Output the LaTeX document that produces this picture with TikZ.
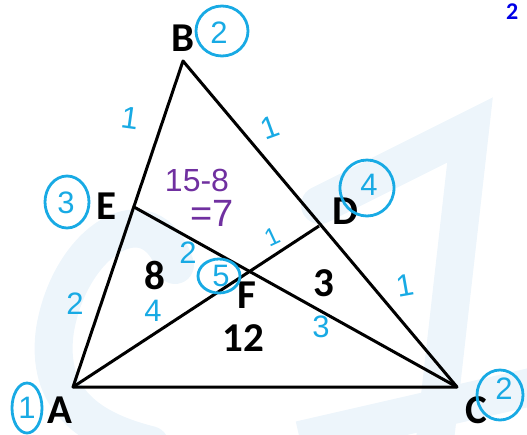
\documentclass[tikz,border=0pt]{standalone}
\usepackage{fontspec}
\setmainfont{Carlito}
\newfontfamily\handfont{Liberation Sans}
\definecolor{penblue}{RGB}{24, 170, 228}
\definecolor{penpurple}{RGB}{112, 48, 160}
\definecolor{markblue}{RGB}{0, 0, 230}
\definecolor{wmblue}{RGB}{237, 245, 251}
\usetikzlibrary{calc}

\begin{document}
\begin{tikzpicture}[x=1pt, y=-1pt,
    side/.style={line width=3pt, line join=round},
    vlabel/.style={font=\fontsize{41}{41}\selectfont\bfseries, inner sep=0pt},
    area/.style={font=\fontsize{41}{41}\selectfont\bfseries, inner sep=0pt},
    hand/.style={text=penblue, font=\handfont\fontsize{31}{31}\selectfont, inner sep=0pt},
    ring/.style={draw=penblue, line width=2.8pt}]
  \useasboundingbox (0,0) rectangle (527,434);
  % faint background marks
  \draw[wmblue, line width=38pt, line cap=round]
    (175,265) .. controls (150,190) and (70,240) .. (55,330)
    .. controls (45,400) and (90,430) .. (150,445);
  \draw[wmblue, line width=38pt, line cap=round]
    (320,205) -- (470,130) -- (435,440);
  \draw[wmblue, line width=38pt] (300,440) -- (540,385);

  \coordinate (A) at (73,387);
  \coordinate (B) at (183,61);
  \coordinate (C) at (457,387);
  \coordinate (E) at (134,207);
  \coordinate (D) at (319,226);
  \coordinate (F) at (intersection of A--D and E--C);

  \draw[side] (A) -- (B) -- (C) -- cycle;
  \draw[side] (A) -- (D);
  \draw[side] (E) -- (C);

  \node[vlabel] (lA) at (60,410) {A};
  \node[vlabel] (lB) at (183,38) {B};
  \node[vlabel] (lC) at (476,410) {C};
  \node[vlabel] (lD) at (345,211) {D};
  \node[vlabel] (lE) at (106,206) {E};
  \node[vlabel] (lF) at (247,295) {F};
  \node[area] (aAEF) at (155,275) {8};
  \node[area] (aCDF) at (324,283) {3};
  \node[area] (aAFC) at (243,338) {12};

  % circled step numbers
  \draw[ring] (27,408) ellipse (15 and 25);
  \node[hand] (s1) at (27,408) {1};
  \draw[ring] (222,31) ellipse (26 and 25);
  \node[hand] (s2) at (219,33) {2};
  \draw[ring] (67,202) ellipse (22 and 26);
  \node[hand] (s3) at (66,203) {3};
  \draw[ring] (367,188) ellipse (27 and 28);
  \node[hand] (s4) at (369,185) {4};
  \draw[ring] (219,276) ellipse (21 and 17);
  \node[hand] (s5) at (221,276) {5};
  \draw[ring] (500,395) ellipse (23 and 25);
  \node[hand] (s6) at (504,389) {2};

  % ratios along the sides
  \node[hand, rotate=-8] (rAB) at (130,118) {1};
  \node[hand, rotate=20] (rBD) at (270,128) {1};
  \node[hand, rotate=10] (rDC) at (405,285) {1};
  \node[hand] (rAE) at (75,304) {2};
  \node[hand] (rEF) at (188,253) {2};
  \node[hand, rotate=25, scale=0.8] (rFD) at (272,237) {1};
  \node[hand] (rAF) at (153,311) {4};
  \node[hand] (rFC) at (321,327) {3};

  \node[text=penpurple, font=\handfont\fontsize{32}{32}\selectfont, inner sep=0pt] (calc1) at (197,180) {15-8};
  \node[text=penpurple, font=\handfont\fontsize{38}{38}\selectfont, inner sep=0pt] (calc2) at (212,213) {=7};

  \node[text=markblue, font=\fontsize{24}{24}\selectfont\bfseries, inner sep=0pt, anchor=west] (q) at (506,12) {2};
\end{tikzpicture}
\end{document}
